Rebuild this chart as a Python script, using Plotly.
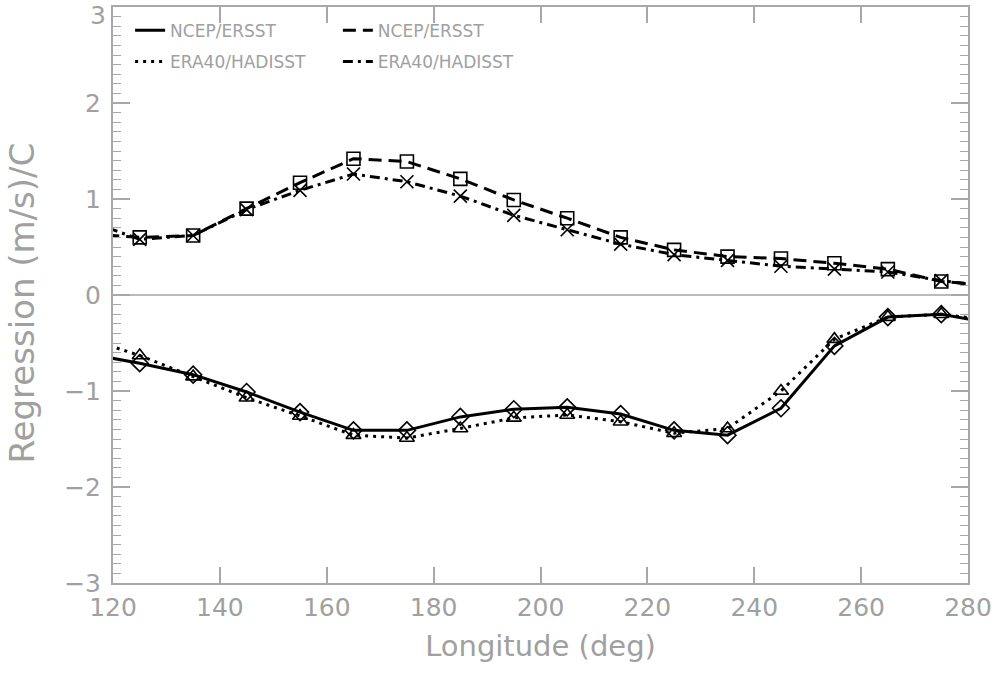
import plotly.graph_objects as go

# Longitudes (line vertices incl. points just outside the axis range)
lon = [115, 125, 135, 145, 155, 165, 175, 185, 195, 205, 215, 225, 235, 245, 255, 265, 275, 285]

ncep_ersst_neg = [-0.61, -0.71, -0.83, -1.01, -1.22, -1.41, -1.41, -1.27, -1.19, -1.17, -1.24, -1.41, -1.46, -1.18, -0.53, -0.23, -0.20, -0.30]
era40_hadisst_neg = [-0.45, -0.63, -0.85, -1.07, -1.26, -1.46, -1.49, -1.39, -1.28, -1.25, -1.32, -1.44, -1.39, -1.00, -0.46, -0.23, -0.20, -0.27]
ncep_ersst_pos = [0.64, 0.60, 0.62, 0.90, 1.17, 1.42, 1.39, 1.21, 0.99, 0.80, 0.60, 0.47, 0.40, 0.38, 0.33, 0.27, 0.14, 0.10]
era40_hadisst_pos = [0.78, 0.58, 0.62, 0.89, 1.09, 1.26, 1.18, 1.03, 0.83, 0.68, 0.53, 0.42, 0.36, 0.30, 0.27, 0.24, 0.15, 0.08]

legend_names = ["NCEP/ERSST", "ERA40/HADISST", "NCEP/ERSST", "ERA40/HADISST"]

x_ticks = [120, 140, 160, 180, 200, 220, 240, 260, 280]
y_ticks = [-3, -2, -1, 0, 1, 2]
y_top_tick = 3

GREY = "#a8a8a8"
TXT = "#a0a0a0"
FONT = "DejaVu Sans"

fig = go.Figure()

series = [
    (ncep_ersst_neg, legend_names[0], "solid", "diamond-open", "legend"),
    (era40_hadisst_neg, legend_names[1], "3px,5px", "triangle-up-open", "legend"),
    (ncep_ersst_pos, legend_names[2], "13px,7px", "square-open", "legend2"),
    (era40_hadisst_pos, legend_names[3], "10px,5px,3px,5px", "x-thin-open", "legend2"),
]

for i, (vals, name, dash, sym, leg) in enumerate(series):
    fig.add_trace(go.Scatter(
        x=lon, y=vals, mode="lines", name=name, legend=leg, legendgroup=f"g{i}",
        line=dict(color="black", width=3, dash=dash),
    ))

for vals, name, dash, sym, leg in series:
    fig.add_trace(go.Scatter(
        x=lon[1:-1], y=vals[1:-1], mode="markers", showlegend=False,
        marker=dict(symbol=sym, size=13, color="black", line=dict(color="black", width=1.6)),
    ))

leg_common = dict(
    orientation="v", yanchor="top", xanchor="left",
    font=dict(family=FONT, size=17, color=TXT),
    bgcolor="rgba(0,0,0,0)", tracegroupgap=6, itemwidth=30,
)

fig.update_layout(
    width=1000, height=678,
    margin=dict(l=113, r=32, t=7, b=95, autoexpand=False),
    paper_bgcolor="white", plot_bgcolor="white",
    font=dict(family=FONT, color=TXT, size=25),
    legend=dict(x=0.02, y=0.99, **leg_common),
    legend2=dict(x=0.263, y=0.99, **leg_common),
    showlegend=True,
)

# top y tick label (kept inside the page) and rotated y-axis title
fig.add_annotation(
    x=0, xref="paper", y=y_top_tick, yref="y", text=str(y_top_tick),
    xanchor="right", yanchor="middle", xshift=-5, yshift=-8, showarrow=False,
    font=dict(family=FONT, size=25, color=TXT),
)
fig.add_annotation(
    x=-0.107, xref="paper", y=0.5, yref="paper", text="Regression (m/s)/C",
    textangle=-90, xanchor="center", yanchor="middle", showarrow=False, yshift=-8,
    font=dict(family=FONT, size=34, color=TXT),
)

fig.update_xaxes(
    range=[120, 280], tickvals=x_ticks, ticktext=[str(v) for v in x_ticks],
    showgrid=False, zeroline=False, automargin=False,
    showline=True, linecolor=GREY, linewidth=2, mirror="allticks",
    ticks="inside", ticklen=16, tickwidth=1.5, tickcolor=GREY,
    tickfont=dict(family=FONT, size=25, color=TXT), ticklabelstandoff=1,
    ticklabeloverflow="allow",
    title=dict(text="Longitude (deg)", font=dict(family=FONT, size=29, color=TXT), standoff=15),
)
fig.update_yaxes(
    range=[-3, 3], tickvals=y_ticks + [y_top_tick],
    ticktext=[str(v).replace("-", "\u2212") for v in y_ticks] + [""],
    showgrid=False, automargin=False,
    zeroline=True, zerolinecolor="#bbbbbb", zerolinewidth=2,
    showline=True, linecolor=GREY, linewidth=2, mirror="allticks",
    ticks="inside", ticklen=17, tickwidth=1.5, tickcolor=GREY,
    tickfont=dict(family=FONT, size=25, color=TXT), ticklabelstandoff=5,
    ticklabeloverflow="allow",
    minor=dict(dtick=0.1, ticks="inside", ticklen=8, tickwidth=1, tickcolor=GREY, showgrid=False),
)

fig.write_html("out.html")
